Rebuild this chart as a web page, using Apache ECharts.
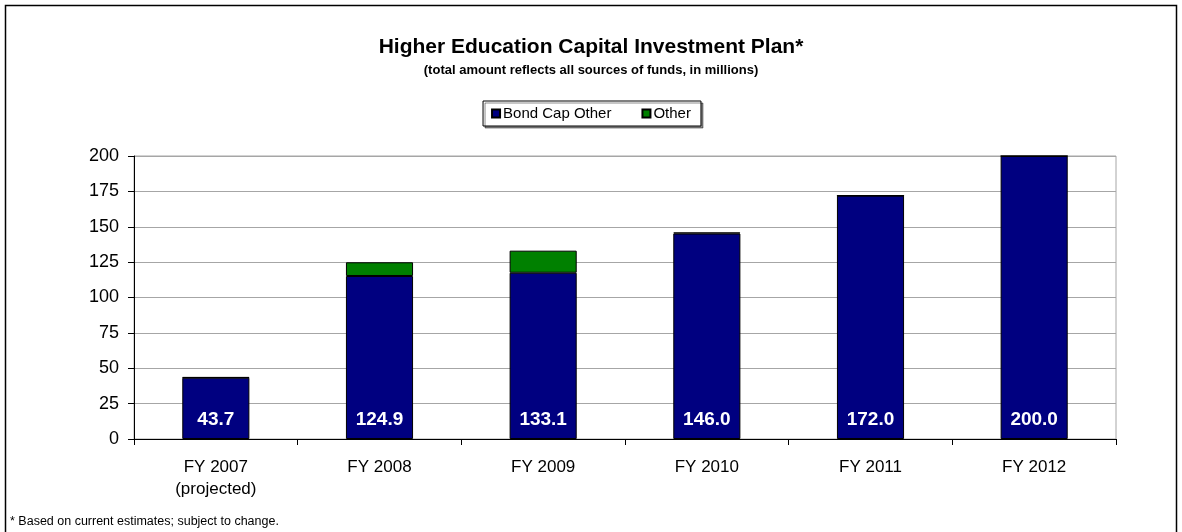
<!DOCTYPE html>
<html>
<head>
<meta charset="utf-8">
<script src="https://cdn.jsdelivr.net/npm/echarts@6/dist/echarts.min.js"></script>
<style>
  html, body { margin: 0; padding: 0; background: #fff; }
  #chart { width: 1182px; height: 532px; }
</style>
</head>
<body>
<div id="chart"></div>
<script>
// Fiscal years on the category axis
const categories = ['FY 2007\n(projected)', 'FY 2008', 'FY 2009', 'FY 2010', 'FY 2011', 'FY 2012'];
// Funding split, in millions
const bondCapOther = [43.3, 115.2, 117.5, 145.2, 172.0, 200.0];
const otherFunds = [0.4, 9.7, 15.6, 0.8, 0.0, 0.0];
// Value axis ticks
const yTicks = [0, 25, 50, 75, 100, 125, 150, 175, 200];

const FONT = 'Liberation Sans, Arial, sans-serif';

const chart = echarts.init(document.getElementById('chart'), null, { renderer: 'canvas' });

const option = {
  backgroundColor: '#ffffff',
  animation: false,
  textStyle: { fontFamily: FONT },
  title: {
    text: 'Higher Education Capital Investment Plan*',
    subtext: '(total amount reflects all sources of funds, in millions)',
    left: 'center',
    top: 32,
    itemGap: 6,
    textStyle: { fontFamily: FONT, fontSize: 21, fontWeight: 'bold', color: '#000' },
    subtextStyle: { fontFamily: FONT, fontSize: 13, fontWeight: 'bold', color: '#000' }
  },
  legend: {
    top: 101,
    left: 'center',
    itemWidth: 8,
    itemHeight: 8,
    itemGap: 30,
    padding: [5, 10, 5, 8],
    borderColor: '#000',
    borderWidth: 1,
    backgroundColor: '#fff',
    shadowColor: 'rgba(0,0,0,0.45)',
    shadowOffsetX: 2,
    shadowOffsetY: 2,
    shadowBlur: 0,
    icon: 'rect',
    textStyle: { fontFamily: FONT, fontSize: 15, color: '#000', padding: [0, 0, 0, -2] },
    data: ['Bond Cap Other', 'Other']
  },
  grid: {
    left: 134,
    right: 66,
    top: 156,
    bottom: 93,
    show: true,
    borderColor: '#a6a6a6',
    borderWidth: 1
  },
  xAxis: {
    type: 'category',
    data: categories,
    axisLine: { lineStyle: { color: '#000', width: 1 } },
    axisTick: { show: true, length: 6, lineStyle: { color: '#000' } },
    axisLabel: {
      color: '#000',
      fontFamily: FONT,
      fontSize: 17,
      lineHeight: 22,
      margin: 17
    }
  },
  yAxis: {
    type: 'value',
    min: yTicks[0],
    max: yTicks[yTicks.length - 1],
    interval: yTicks[1] - yTicks[0],
    axisLine: { show: true, lineStyle: { color: '#000', width: 1 } },
    axisTick: { show: true, length: 6, lineStyle: { color: '#000' } },
    axisLabel: { color: '#000', fontFamily: FONT, fontSize: 18, margin: 15 },
    splitLine: { lineStyle: { color: '#a6a6a6', width: 1 } }
  },
  series: [
    {
      name: 'Bond Cap Other',
      type: 'bar',
      stack: 'total',
      barWidth: '41%',
      data: bondCapOther,
      itemStyle: { color: '#000080', borderColor: '#000', borderWidth: 1 },
      label: {
        show: true,
        position: 'insideBottom',
        distance: 10,
        color: '#fff',
        fontFamily: FONT,
        fontSize: 19,
        fontWeight: 'bold',
        formatter: p => (bondCapOther[p.dataIndex] + otherFunds[p.dataIndex]).toFixed(1)
      }
    },
    {
      name: 'Other',
      type: 'bar',
      stack: 'total',
      barWidth: '41%',
      data: otherFunds,
      itemStyle: { color: '#008000', borderColor: '#000', borderWidth: 1 }
    }
  ],
  graphic: [
    {
      type: 'rect',
      shape: { x: 5.5, y: 5.5, width: 1171, height: 540 },
      style: { fill: null, stroke: '#000', lineWidth: 1.5 },
      silent: true
    },
    {
      type: 'text',
      left: 10,
      top: 515,
      style: {
        text: '* Based on current estimates; subject to change.',
        fontFamily: FONT,
        fontSize: 12.5,
        fill: '#000'
      }
    }
  ]
};

chart.setOption(option);
</script>
</body>
</html>
